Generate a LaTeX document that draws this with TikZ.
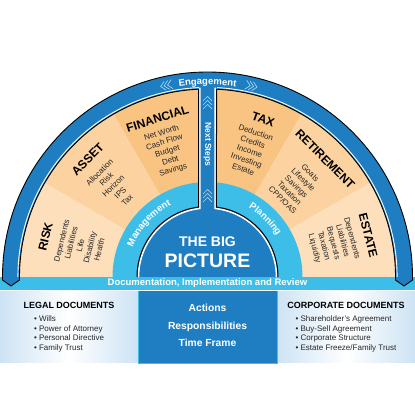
\documentclass[tikz,border=0pt]{standalone}
\usepackage{fontspec}
\setmainfont{Liberation Sans}
\usetikzlibrary{positioning,decorations.text}

\definecolor{ringblue}{RGB}{31,126,193}
\definecolor{skyblue}{RGB}{60,190,233}
\definecolor{peachA}{RGB}{253,223,187}
\definecolor{peachB}{RGB}{252,211,160}
\definecolor{peachC}{RGB}{249,196,130}
\definecolor{boxblue}{RGB}{205,227,244}
\definecolor{chevcol}{RGB}{165,212,240}

\begin{document}
\begin{tikzpicture}[x=1pt,y=1pt,
    title/.style={font=\fontsize{12}{12}\selectfont\bfseries, inner sep=0pt},
    items/.style={font=\fontsize{8}{9.7}\selectfont, align=center, text=black!85, inner sep=0pt},
    chev/.style={draw=chevcol, line width=0.7pt},
    whitebold/.style={text=white, inner sep=0pt},
    boxhead/.style={font=\fontsize{9}{10}\selectfont\bfseries, inner sep=0pt},
    boxlist/.style={font=\fontsize{8}{9.7}\selectfont, align=left, text=black!85, inner sep=0pt}]
    \useasboundingbox (0,0) rectangle (415,415);
    \coordinate (c) at (207.5,138);

    \shade[left color=boxblue, right color=boxblue, middle color=white] (0,52) rectangle (138,125);
    \shade[left color=boxblue, right color=boxblue, middle color=white] (277,52) rectangle (415,125);
    \draw[fill=ringblue, draw=skyblue, line width=0.8pt] (138,52) rectangle (277,125);
    \fill[skyblue] (0,125) rectangle (415,138);
    \draw[white, line width=0.6pt] (0,125) -- (415,125);

    \foreach \a/\col in {180/peachA,150/peachB,120/peachC,90/peachC,60/peachB,30/peachA}
        \fill[\col] (c) -- ++(\a:188) arc[start angle=\a, end angle=\a-30, radius=188] -- cycle;
    \fill[skyblue] (c) ++(-95,0) arc[start angle=180, end angle=0, radius=95] -- cycle;

    % outer ring with pointed ends
    \draw[fill=ringblue, line width=0.9pt] (c) ++(-205,0) arc[start angle=180, end angle=0, radius=205]
        -- ++(0,-3) -- ++(-8.5,-6) -- ++(-8.5,6) -- ++(0,3)
        arc[start angle=0, end angle=180, radius=188]
        -- ++(0,-3) -- ++(-8.5,-6) -- ++(-8.5,6) -- cycle;
    \draw[white, line width=0.9pt] (c) ++(-189.6,0) arc[start angle=180, end angle=0, radius=189.6];

    % centre and column
    \fill[ringblue] (198.5,138) rectangle (216.5,331);
    \fill[ringblue] (c) ++(-70,0) arc[start angle=180, end angle=0, radius=70] -- cycle;
    \draw[white, line width=1.6pt] (c) ++(-69,0) arc[start angle=180, end angle=96.41, radius=69] -- (199.8,327.3);
    \draw[white, line width=1.6pt] (c) ++(69,0) arc[start angle=0, end angle=83.59, radius=69] -- (215.2,327.3);
    \draw[black, line width=1pt] (c) ++(-70.5,0) arc[start angle=180, end angle=97.33, radius=70.5] -- (198.5,325.8);
    \draw[black, line width=1pt] (c) ++(70.5,0) arc[start angle=0, end angle=82.67, radius=70.5] -- (216.5,325.8);

    \foreach \y in {213,217,221,306,310,314}
        \draw[chev] (203,\y) -- (207.5,\y+4.5) -- (212,\y);
    \begin{scope}[shift={(c)}, rotate=12.2]
        \foreach \s in {-3.5,0,3.5}
            \draw[chev] (\s+2.5,200.5) -- (\s-2,196) -- (\s+2.5,191.5);
    \end{scope}
    \begin{scope}[shift={(c)}, rotate=-13]
        \foreach \s in {-3.5,0,3.5}
            \draw[chev] (\s-2.5,200.5) -- (\s+2,196) -- (\s-2.5,191.5);
    \end{scope}

    \path[decorate, decoration={text along path, text align=center, text color=white,
        text={|\fontsize{9.5}{10}\selectfont\bfseries|Engagement}}]
        (c) ++(110:192.5) arc[start angle=110, end angle=70, radius=192.5];
    \path[decorate, decoration={text along path, text align=center, text color=white,
        text={|\fontsize{9.5}{10}\selectfont\bfseries|Management}}]
        (c) ++(167.5:80.5) arc[start angle=167.5, end angle=107.5, radius=80.5];
    \path[decorate, decoration={text along path, text align=center, text color=white,
        text={|\fontsize{9.5}{10}\selectfont\bfseries|Planning}}]
        (c) ++(75:80.5) arc[start angle=75, end angle=15, radius=80.5];

    \node (next) [whitebold, font=\fontsize{8.5}{9}\selectfont\bfseries, rotate=-90] at (207.5,270.5) {Next Steps};
    \node (thebig) [whitebold, font=\fontsize{14}{14}\selectfont\bfseries, anchor=base] at (207.5,168.5) {THE BIG};
    \node (picture) [whitebold, font=\fontsize{19.5}{20}\selectfont\bfseries, below=6.5pt of thebig] {PICTURE};

    \begin{scope}[shift={(c)}]
        \node (risk) [title, rotate=76] at (166:167) {RISK};
        \node (risklist) [items, rotate=76] at (166:131) {Dependents\\Liabilities\\Life\\Disability\\Health};
        \node (asset) [title, rotate=45.5] at (135.5:168) {ASSET};
        \node (assetlist) [items, rotate=45.5] at (136:131) {Allocation\\Risk\\Horizon\\IPS\\Tax};
        \node (financial) [title, rotate=17.5] at (107.5:166) {FINANCIAL};
        \node (financiallist) [items, rotate=17.5] at (107.7:131.5) {Net Worth\\Cash Flow\\Budget\\Debt\\Savings};
        \node (tax) [title, rotate=-19.5] at (70.5:167) {TAX};
        \node (taxlist) [items, rotate=-19] at (71.5:133) {Deduction\\Credits\\Income\\Investing\\Estate};
        \node (retirement) [title, rotate=-45] at (45:166.5) {RETIREMENT};
        \node (retirementlist) [items, rotate=-45] at (45.5:127) {Goals\\Lifestyle\\Savings\\Taxation\\CPP/OAS};
        \node (estate) [title, rotate=-75.5] at (14.5:166) {ESTATE};
        \node (estatelist) [items, rotate=-75] at (15:130) {Dependents\\Liabilities\\Bequests\\Taxation\\Liquidity};
    \end{scope}

    \node (doc) [whitebold, font=\fontsize{9.5}{10}\selectfont\bfseries] at (207.5,131.5) {Documentation, Implementation and Review};

    \node (legal) [boxhead] at (69,110) {LEGAL DOCUMENTS};
    \node (legallist) [boxlist, below=7pt of legal] {\textbullet\ Wills\\\textbullet\ Power of Attorney\\\textbullet\ Personal Directive\\\textbullet\ Family Trust};
    \node (tasks) [whitebold, font=\fontsize{10.3}{17.5}\selectfont\bfseries, align=center] at (207.5,89.5) {Actions\\Responsibilities\\Time Frame};
    \node (corp) [boxhead] at (346,110) {CORPORATE DOCUMENTS};
    \node (corplist) [boxlist, below=7pt of corp] {\textbullet\ Shareholder's Agreement\\\textbullet\ Buy-Sell Agreement\\\textbullet\ Corporate Structure\\\textbullet\ Estate Freeze/Family Trust};
\end{tikzpicture}
\end{document}
